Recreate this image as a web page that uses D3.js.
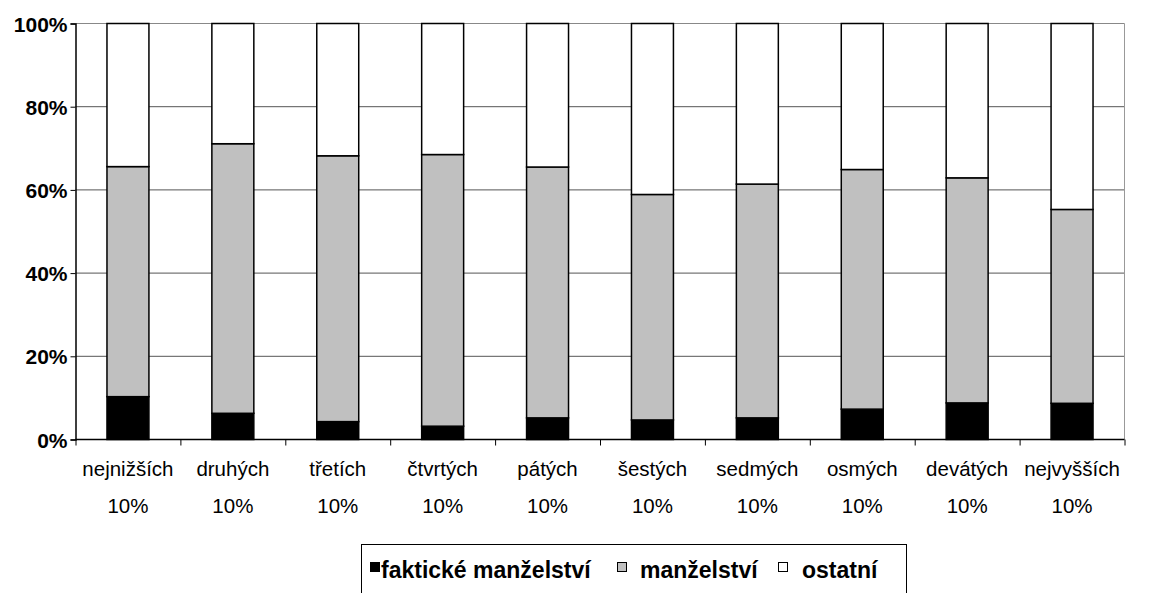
<!DOCTYPE html>
<html>
<head>
<meta charset="utf-8">
<script src="https://cdn.jsdelivr.net/npm/d3@7"></script>
<style>
  body { margin: 0; background: #fff; }
  svg { font-family: Arial, "Liberation Sans", sans-serif; }
</style>
</head>
<body>
<div id="chart"></div>
<script>
// categories (two lines each)
var categories = ["nejnižších", "druhých", "třetích", "čtvrtých", "pátých", "šestých", "sedmých", "osmých", "devátých", "nejvyšších"];
var categorySuffix = "10%";

// series values (percent)
var fakticke   = [10.3, 6.3, 4.3, 3.2, 5.2, 4.7, 5.2, 7.3, 8.8, 8.7];
var manzelstvi = [55.3, 64.8, 63.9, 65.3, 60.3, 54.2, 56.2, 57.6, 54.1, 46.6];
var ostatni    = [34.4, 28.9, 31.8, 31.5, 34.5, 41.1, 38.6, 35.1, 37.1, 44.7];

var seriesNames = ["faktické manželství", "manželství", "ostatní"];
var yTicks = [0, 0.2, 0.4, 0.6, 0.8, 1];

var colors = ["#000000", "#c0c0c0", "#ffffff"];

// canvas
var W = 1157, H = 593;
var plotLeft = 75.5, plotRight = 1124.5, plotTop = 23.5, plotBottom = 439.5;

var svg = d3.select("#chart").append("svg")
    .attr("width", W)
    .attr("height", H);

// build stack rows from the arrays
var rows = categories.map(function(c, i) {
    return { cat: c, f: fakticke[i], m: manzelstvi[i], o: ostatni[i] };
});
var stack = d3.stack().keys(["f", "m", "o"]).offset(d3.stackOffsetExpand);
var stacked = stack(rows);

// scales
var x = d3.scaleBand().domain(categories).range([plotLeft, plotRight]).paddingInner(0.6).paddingOuter(0.3);
var xEdge = d3.scaleLinear().domain([0, categories.length]).range([plotLeft, plotRight]);
var y = d3.scaleLinear().domain([0, 1]).range([plotBottom, plotTop]);

// gridlines
svg.append("g").selectAll("line")
    .data(yTicks.filter(function(d) { return d > 0; }))
    .enter().append("line")
    .attr("x1", plotLeft).attr("x2", plotRight)
    .attr("y1", function(d) { return y(d); })
    .attr("y2", function(d) { return y(d); })
    .style("stroke", function(d) { return d === 1 ? "#888" : "#555"; })
    .style("stroke-width", 1);

// right border of plot
svg.append("line")
    .attr("x1", plotRight).attr("x2", plotRight)
    .attr("y1", plotTop).attr("y2", plotBottom)
    .style("stroke", "#999");

// bars
svg.append("g").selectAll("g")
    .data(stacked)
    .enter().append("g")
    .style("fill", function(d, i) { return colors[i]; })
  .selectAll("rect")
    .data(function(d) { return d; })
    .enter().append("rect")
    .attr("x", function(d) { return x(d.data.cat); })
    .attr("width", x.bandwidth())
    .attr("y", function(d) { return y(d[1]); })
    .attr("height", function(d) { return y(d[0]) - y(d[1]); })
    .style("stroke", "#000")
    .style("stroke-width", 1.5);

// y axis
var yAxis = d3.axisLeft(y).tickValues(yTicks).tickFormat(d3.format(".0%")).tickSize(5).tickPadding(3);
var gy = svg.append("g")
    .attr("transform", "translate(" + plotLeft + ",0)")
    .call(yAxis);
gy.select(".domain").style("stroke", "#000").style("stroke-width", 1.5);
gy.selectAll(".tick line").style("stroke", "#000");
gy.selectAll(".tick text")
    .style("font-size", "21px")
    .style("font-weight", "bold")
    .style("fill", "#000")
    .attr("dy", "0.36em");

// x axis (ticks at category boundaries)
var xAxis = d3.axisBottom(xEdge).ticks(categories.length).tickFormat("").tickSize(6);
var gx = svg.append("g")
    .attr("transform", "translate(0," + plotBottom + ")")
    .call(xAxis);
gx.select(".domain").style("stroke", "#000").style("stroke-width", 1.5).attr("d", "M" + plotLeft + ",0H" + plotRight);
gx.selectAll(".tick line").style("stroke", "#000");

// category labels
var labels = svg.append("g").selectAll("text")
    .data(categories)
    .enter().append("text")
    .attr("x", function(d) { return x(d) + x.bandwidth() / 2; })
    .attr("text-anchor", "middle")
    .style("font-size", "20.5px")
    .style("fill", "#000");
labels.append("tspan")
    .attr("x", function(d) { return x(d) + x.bandwidth() / 2; })
    .attr("y", 476)
    .text(function(d) { return d; });
labels.append("tspan")
    .attr("x", function(d) { return x(d) + x.bandwidth() / 2; })
    .attr("y", 513)
    .text(categorySuffix);

// legend
var legend = svg.append("g");
legend.append("rect")
    .attr("x", 361.5).attr("y", 544.5)
    .attr("width", 545).attr("height", 70)
    .style("fill", "#fff")
    .style("stroke", "#000");

var legendSq = [370, 617, 778];
var legendTx = [381, 640, 802];
seriesNames.forEach(function(name, i) {
    legend.append("rect")
        .attr("x", legendSq[i] + 0.5).attr("y", 562.5)
        .attr("width", 9).attr("height", 9)
        .style("fill", colors[i])
        .style("stroke", "#000");
    legend.append("text")
        .attr("x", legendTx[i]).attr("y", 578)
        .style("font-size", "23px")
        .style("font-weight", "bold")
        .style("fill", "#000")
        .text(name);
});
</script>
</body>
</html>
